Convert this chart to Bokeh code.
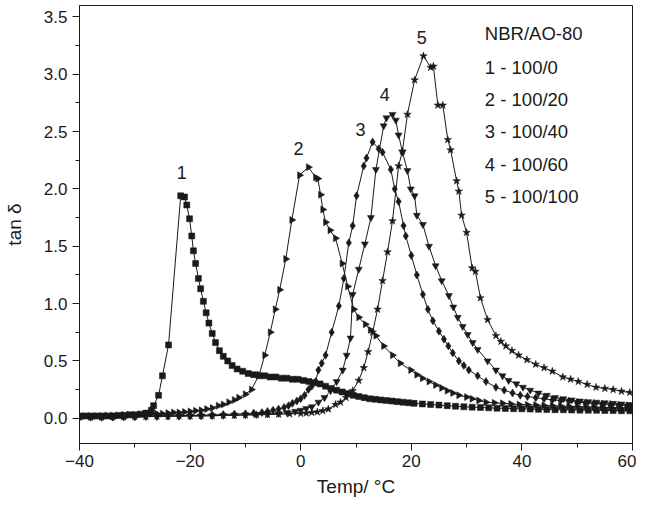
import math
from bokeh.plotting import figure
from bokeh.models import Range1d, SingleIntervalTicker, PrintfTickFormatter, Label
from bokeh.embed import file_html
from bokeh.resources import INLINE

# ---- data ----
s1_temp = [-40,-39,-38,-37,-36,-35,-34,-33,-32,-31,
           -30,-29,-28,-27,-26.6,-25.7,-25.0,-23.9,-21.7,-21.0,
           -20.6,-20.1,-19.7,-19.4,-19.0,-18.5,-18.1,-17.6,-17.1,-16.6,
           -16.0,-15.4,-14.7,-14.0,-13.2,-12.4,-11.5,-10.5,-9.5,-8.5,
           -7.5,-6.5,-5.5,-4.5,-3.5,-2.5,-1.5,-0.5,0.5,1.5,
           2.5,3.5,4.5,5.5,6.5,7.5,8.5,9.5,10.5,11.5,
           12.5,13.5,14.5,15.5,16.5,17.5,18.5,19.5,20.5,22,
           23.5,25,26.5,28,29.5,31,32.5,34,35.5,37,
           38.5,40,41.5,43,44.5,46,47.5,49,50.5,52,
           53.5,55,56.5,58,59.5]
s1_tan = [0.02,0.02,0.02,0.02,0.02,0.02,0.02,0.025,0.025,0.03,
          0.03,0.035,0.045,0.07,0.11,0.20,0.37,0.64,1.94,1.93,
          1.86,1.74,1.59,1.46,1.35,1.22,1.13,1.02,0.92,0.83,
          0.74,0.66,0.59,0.54,0.50,0.46,0.43,0.41,0.39,0.38,
          0.37,0.37,0.36,0.36,0.35,0.35,0.34,0.34,0.33,0.32,
          0.31,0.30,0.28,0.26,0.245,0.23,0.215,0.20,0.19,0.18,
          0.17,0.165,0.16,0.155,0.15,0.145,0.14,0.135,0.13,0.125,
          0.12,0.115,0.11,0.105,0.10,0.097,0.094,0.091,0.088,0.086,
          0.084,0.082,0.08,0.078,0.076,0.075,0.074,0.072,0.071,0.07,
          0.069,0.068,0.067,0.066,0.065]

s2_temp = [-40,-39,-38,-37,-36,-35,-34,-33,-32,-31,
           -30,-29,-28,-27,-26,-25,-24,-23,-22,-21,
           -20,-19,-18,-17,-16,-14.9,-14,-13,-12,-11.2,
           -10,-8.9,-7.5,-6.5,-5.5,-4.6,-3.8,-2.7,-1.6,-0.2,
           1.4,2.7,3.1,3.6,4.0,4.5,5.3,6.3,7.5,8.5,
           9.6,10.5,11.7,12.6,13.6,15.0,16.6,18.0,19.9,21.0,
           22.0,23.2,24.4,25.5,26.5,27.5,28.6,30,31,32.2,
           33.5,35,36.5,38,39.5,41,42.5,44,45.5,47,
           48.5,50,51.5,53,54.5,56,57.5,59,60]
s2_tan = [0.02,0.02,0.02,0.02,0.02,0.025,0.025,0.025,0.03,0.03,
          0.03,0.035,0.035,0.04,0.04,0.04,0.045,0.05,0.05,0.055,
          0.06,0.065,0.07,0.08,0.09,0.11,0.12,0.14,0.16,0.18,
          0.21,0.25,0.38,0.55,0.75,0.95,1.12,1.39,1.73,2.12,
          2.19,2.10,2.09,1.95,1.82,1.71,1.64,1.57,1.35,1.15,
          0.95,0.88,0.82,0.77,0.72,0.63,0.55,0.48,0.42,0.38,
          0.35,0.32,0.29,0.265,0.24,0.22,0.20,0.185,0.17,0.155,
          0.14,0.135,0.13,0.125,0.12,0.118,0.115,0.112,0.11,0.107,
          0.105,0.103,0.10,0.098,0.096,0.094,0.092,0.09,0.09]

s3_temp = [-40,-38,-36,-34,-32,-30,-28,-26,-24,-22,
           -20,-18,-16,-14,-12,-10,-8.5,-7,-6,-5,
           -4,-3,-2.2,-1.5,-0.7,0,0.7,1.4,2.0,2.7,
           3.2,3.8,4.5,5.6,6.9,7.8,8.7,9.4,10.1,11.4,
           11.9,13.0,14.1,14.8,16.3,17.0,17.7,18.6,19.0,20.0,
           21.0,22.1,23.0,23.9,25.0,25.9,26.7,27.5,28.6,29.5,
           30.4,32.0,33.5,35.3,36.8,38.3,39.7,41,42.5,44,
           45.5,47,48.5,50,51.5,53,54.5,56,57.5,59]
s3_tan = [0.01,0.01,0.01,0.012,0.015,0.015,0.018,0.02,0.02,0.022,
          0.025,0.028,0.03,0.033,0.037,0.04,0.045,0.05,0.06,0.07,
          0.08,0.095,0.11,0.13,0.15,0.17,0.20,0.25,0.28,0.32,
          0.42,0.48,0.55,0.75,0.98,1.22,1.53,1.68,1.94,2.20,
          2.27,2.41,2.35,2.32,2.17,2.0,1.89,1.68,1.59,1.42,
          1.25,1.08,0.95,0.85,0.76,0.69,0.63,0.57,0.50,0.46,
          0.42,0.37,0.32,0.27,0.245,0.22,0.20,0.19,0.18,0.17,
          0.16,0.155,0.15,0.14,0.135,0.13,0.125,0.12,0.115,0.11]

s4_temp = [-40,-38,-36,-34,-32,-30,-28,-26,-24,-22,
           -20,-18,-16,-14,-12,-10,-8,-6,-4,-2.5,
           -1,0,1,2,3.2,4.3,5.4,6.5,7.6,8.3,
           9.0,9.4,10.5,11.6,12.7,13.6,15.0,15.5,16.6,17.2,
           17.7,18.4,19.3,19.9,20.6,21.0,22.1,23.2,24.4,25.5,
           26.8,27.6,28.4,29.3,30.2,31.1,32.0,33.8,35.3,36.5,
           37.6,39,40.2,41.5,43,44.5,46,47.5,49,50.5,
           52,53.5,55,56.5,58,59.5]
s4_tan = [0.01,0.01,0.01,0.01,0.012,0.012,0.015,0.015,0.018,0.018,
          0.02,0.02,0.022,0.025,0.028,0.03,0.033,0.037,0.042,0.05,
          0.06,0.07,0.085,0.10,0.14,0.18,0.24,0.32,0.42,0.55,
          0.70,1.08,1.30,1.52,1.75,2.17,2.55,2.62,2.65,2.60,
          2.47,2.32,2.16,2.0,1.94,1.77,1.69,1.50,1.33,1.20,
          1.07,0.97,0.88,0.80,0.73,0.66,0.60,0.50,0.42,0.37,
          0.33,0.30,0.27,0.245,0.22,0.20,0.18,0.17,0.16,0.15,
          0.145,0.14,0.135,0.13,0.125,0.12]

s5_temp = [-40,-38,-36,-34,-32,-30,-28,-26,-24,-22,
           -20,-18,-16,-14,-12,-10,-8,-6,-4,-2,
           0,1,2,3,4,5,6.3,7.2,8.2,9.4,
           10.5,11.4,12.2,13.0,13.9,14.8,15.7,16.6,17.7,18.4,
           19.3,20.6,22.2,23.5,24.0,24.8,25.7,26.6,27.1,28.2,
           28.6,29.1,30.0,31.0,31.6,32.5,33.8,35.3,36.2,37.1,
           38.2,39.4,40.9,42.5,44,45.5,47.4,48.8,50.2,51.8,
           53.4,55,56.5,58,59.5]
s5_tan = [0.01,0.01,0.01,0.012,0.012,0.015,0.015,0.018,0.018,0.02,
          0.02,0.022,0.022,0.025,0.025,0.028,0.03,0.032,0.035,0.038,
          0.042,0.045,0.05,0.055,0.065,0.08,0.12,0.14,0.18,0.24,
          0.33,0.44,0.58,0.75,0.95,1.2,1.45,1.72,2.20,2.33,
          2.65,2.95,3.16,3.06,3.07,2.73,2.73,2.43,2.34,2.07,
          1.98,1.77,1.62,1.31,1.28,1.05,0.86,0.72,0.67,0.63,
          0.59,0.55,0.51,0.47,0.44,0.41,0.36,0.34,0.32,0.295,
          0.27,0.26,0.25,0.235,0.225]

legend_title = "NBR/AO-80"
legend_lines = ["1 - 100/0", "2 - 100/20", "3 - 100/40", "4 - 100/60", "5 - 100/100"]
peak_names = ["1", "2", "3", "4", "5"]

x_ticks_interval = 20
y_ticks_interval = 0.5

# ---- figure ----
INK = "#1a1a1a"
FONT = "Liberation Sans"

p = figure(frame_width=553, frame_height=438, output_backend="svg", toolbar_location=None,
           x_range=Range1d(-40, 60), y_range=Range1d(-0.22, 3.6),
           min_border_left=76, min_border_right=4, min_border_top=5, min_border_bottom=58)
p.grid.visible = False
p.outline_line_color = INK
p.outline_line_width = 1
p.background_fill_color = "white"
p.border_fill_color = "white"

p.xaxis.ticker = SingleIntervalTicker(interval=x_ticks_interval, num_minor_ticks=2)
p.yaxis.ticker = SingleIntervalTicker(interval=y_ticks_interval, num_minor_ticks=2)
p.yaxis.formatter = PrintfTickFormatter(format="%.1f")
for ax in (p.xaxis, p.yaxis):
    ax.axis_line_color = INK
    ax.major_tick_line_color = INK
    ax.minor_tick_line_color = INK
    ax.major_tick_in = 0
    ax.major_tick_out = 7
    ax.minor_tick_in = 0
    ax.minor_tick_out = 4
    ax.major_label_text_font = FONT
    ax.major_label_text_font_size = "17px"
    ax.major_label_text_color = INK
    ax.axis_label_text_font = FONT
    ax.axis_label_text_font_size = "19px"
    ax.axis_label_text_font_style = "normal"
    ax.axis_label_text_color = INK
p.xaxis.axis_label = "Temp/ °C"
p.yaxis.axis_label = "tan δ"
p.xaxis.axis_label_standoff = 6
p.xaxis.major_label_standoff = 4
p.yaxis.axis_label_standoff = 16

series = [
    (s1_temp, s1_tan, "square", 6, 0.0),
    (s2_temp, s2_tan, "triangle", 7, -math.pi / 2),
    (s3_temp, s3_tan, "diamond", 8, 0.0),
    (s4_temp, s4_tan, "inverted_triangle", 7, 0.0),
    (s5_temp, s5_tan, "star", 8, 0.0),
]
for xs, ys, marker, size, ang in series:
    p.line(xs, ys, line_color=INK, line_width=1)
    p.scatter(xs, ys, marker=marker, size=size, angle=ang,
              fill_color=INK, line_color=INK, line_width=0.5)

# legend text block (upper right)
p.add_layout(Label(x=33.3, y=3.357, text=legend_title, text_font=FONT,
                   text_font_size="18.5px", text_color=INK, text_baseline="middle"))
leg_y = [3.06, 2.78, 2.50, 2.21, 1.935]
for t, yy in zip(legend_lines, leg_y):
    p.add_layout(Label(x=33.3, y=yy, text=t, text_font=FONT,
                       text_font_size="18.5px", text_color=INK, text_baseline="middle"))

# peak numbers
peak_pos = [(-21.5, 2.14), (-0.4, 2.35), (10.8, 2.52), (15.2, 2.82), (21.9, 3.32)]
for t, (xx, yy) in zip(peak_names, peak_pos):
    p.add_layout(Label(x=xx, y=yy, text=t, text_font=FONT, text_font_size="18px",
                       text_color=INK, text_align="center", text_baseline="middle"))

open("out.html", "w").write(file_html(p, INLINE))
